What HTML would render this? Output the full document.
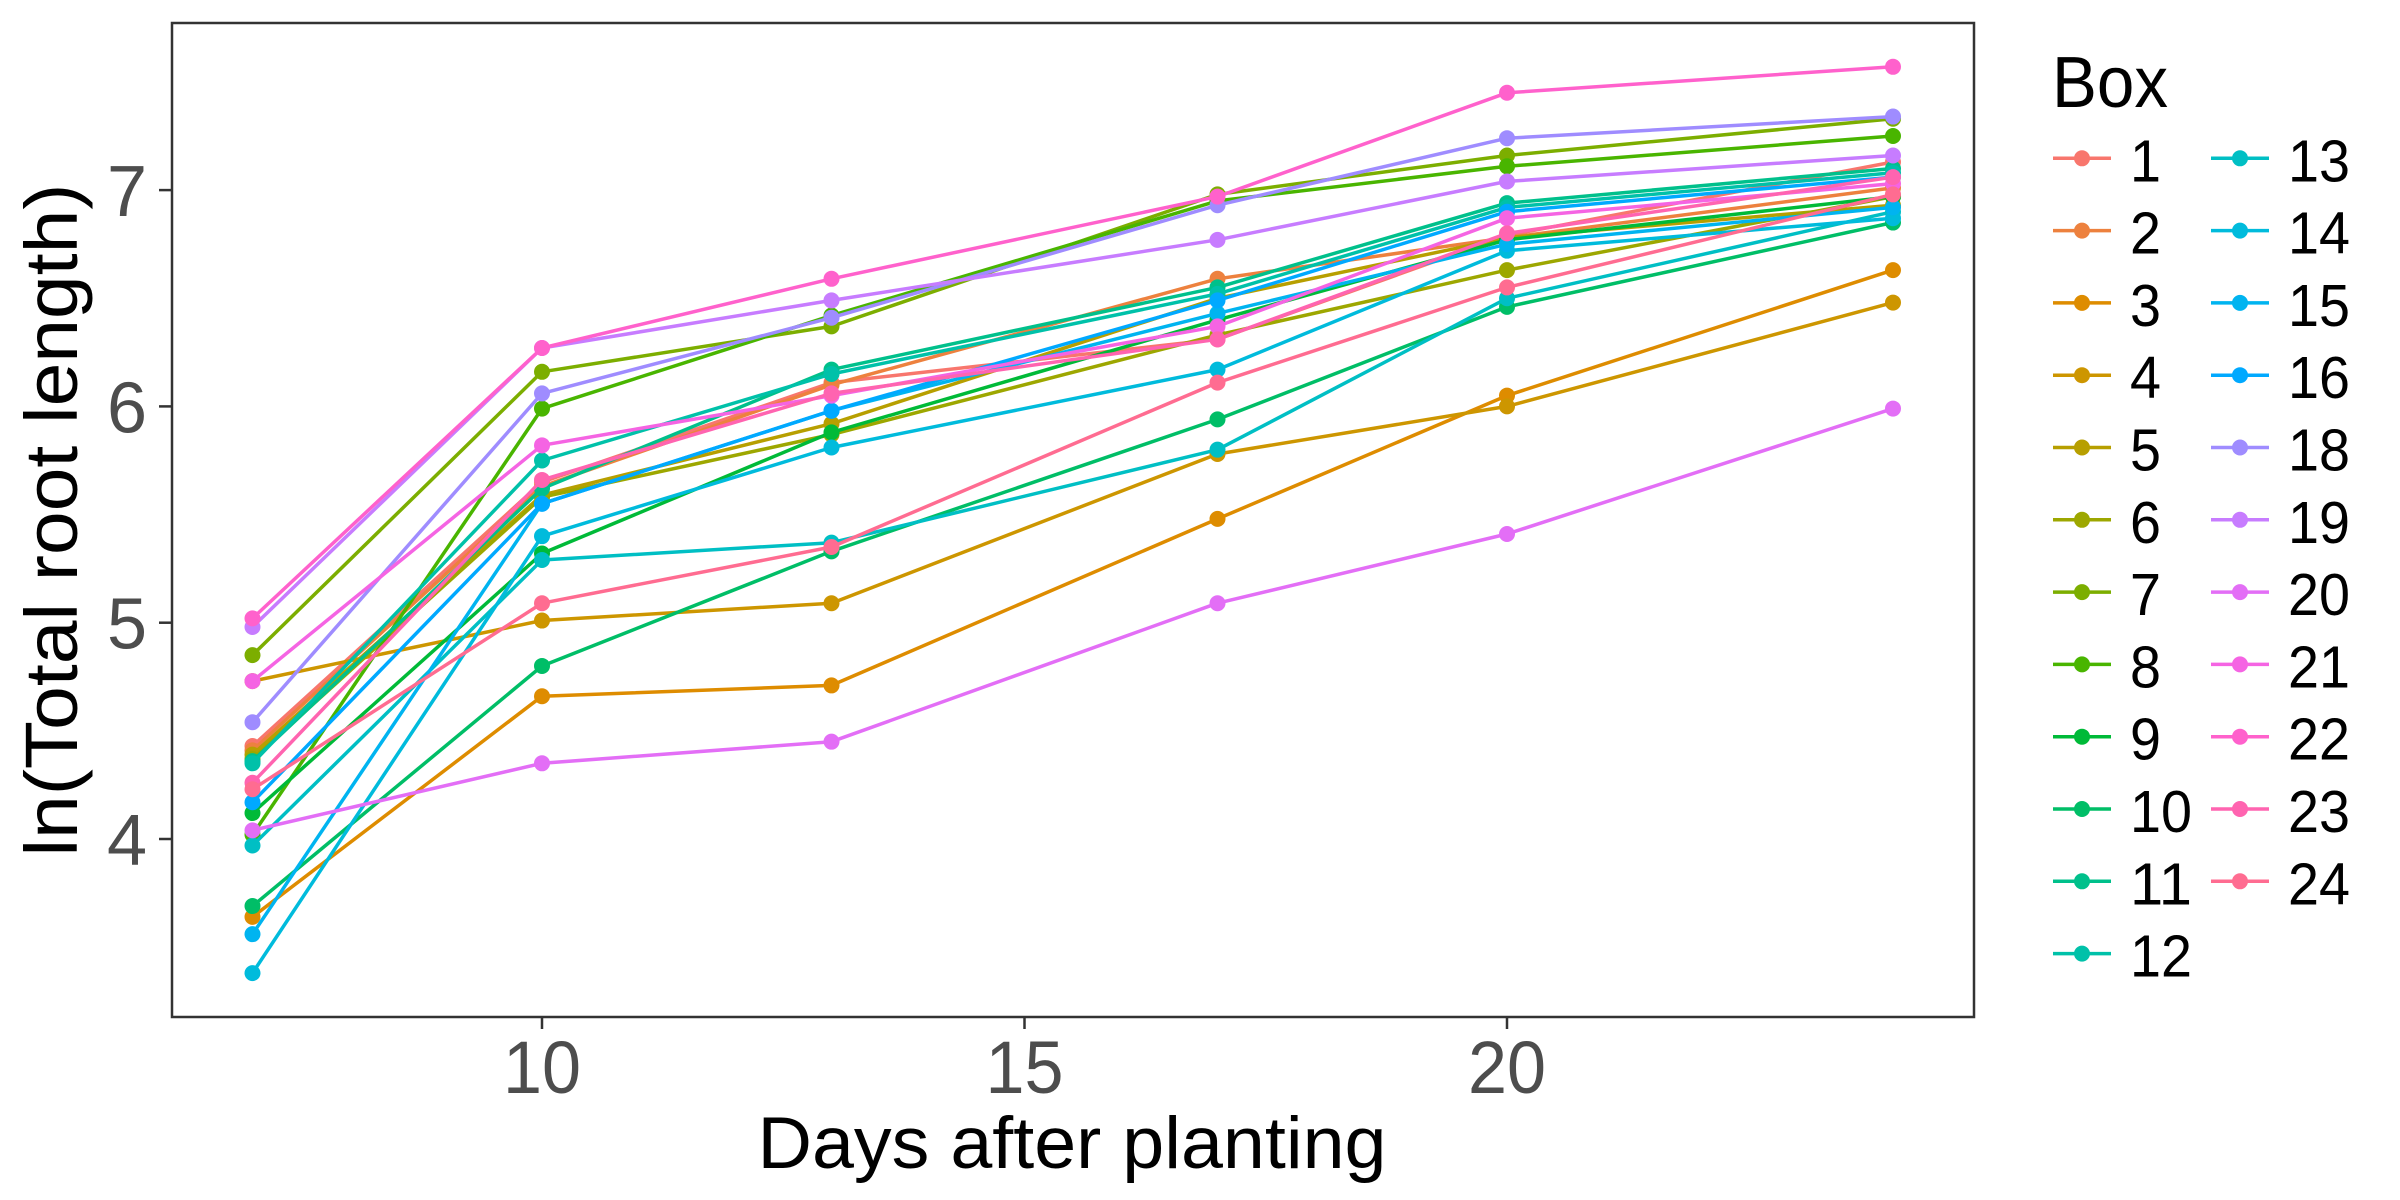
<!DOCTYPE html>
<html><head><meta charset="utf-8"><style>
html,body{margin:0;padding:0;background:#fff;}
svg{display:block;font-family:"Liberation Sans",sans-serif;}
</style></head><body>
<svg id="chart" width="2400" height="1200" viewBox="0 0 2400 1200" xmlns="http://www.w3.org/2000/svg">
<rect x="0" y="0" width="2400" height="1200" fill="#fff"/>
<g id="plot"></g>
<rect x="172" y="23" width="1802" height="994" fill="none" stroke="#333" stroke-width="2.5"/>
<g id="axes"></g>
<text x="1072" y="1168" font-size="73" text-anchor="middle" textLength="629" lengthAdjust="spacingAndGlyphs" fill="#000">Days after planting</text>
<text transform="translate(77,520) rotate(-90)" font-size="74" text-anchor="middle" textLength="673" lengthAdjust="spacingAndGlyphs" fill="#000">ln(Total root length)</text>
<g id="legend">
<text x="2052" y="107" font-size="72" textLength="116" lengthAdjust="spacingAndGlyphs" fill="#000">Box</text>
</g>
</svg>
<script>
const days = [7, 10, 13, 17, 20, 24];
const boxes = ['1','2','3','4','5','6','7','8','9','10','11','12','13','14','15','16','18','19','20','21','22','23','24'];
const s1  = [4.43, 5.65, 6.11, 6.31, 6.79, 7.13];
const s2  = [4.41, 5.63, 6.10, 6.59, 6.78, 7.01];
const s3  = [3.64, 4.66, 4.71, 5.48, 6.05, 6.63];
const s4  = [4.73, 5.01, 5.09, 5.78, 6.00, 6.48];
const s5  = [4.39, 5.59, 5.92, 6.50, 6.78, 6.93];
const s6  = [4.37, 5.58, 5.87, 6.33, 6.63, 6.97];
const s7  = [4.85, 6.16, 6.37, 6.98, 7.16, 7.33];
const s8  = [4.02, 5.99, 6.42, 6.95, 7.11, 7.25];
const s9  = [4.12, 5.32, 5.88, 6.40, 6.77, 6.97];
const s10 = [3.69, 4.80, 5.33, 5.94, 6.46, 6.85];
const s11 = [4.36, 5.62, 6.17, 6.55, 6.94, 7.10];
const s12 = [4.35, 5.75, 6.15, 6.52, 6.92, 7.08];
const s13 = [3.97, 5.29, 5.37, 5.80, 6.50, 6.90];
const s14 = [3.38, 5.40, 5.81, 6.17, 6.72, 6.87];
const s15 = [3.56, 5.55, 5.98, 6.43, 6.75, 6.92];
const s16 = [4.17, 5.55, 5.98, 6.49, 6.90, 7.06];
const s18 = [4.54, 6.06, 6.41, 6.93, 7.24, 7.34];
const s19 = [4.98, 6.27, 6.49, 6.77, 7.04, 7.16];
const s20 = [4.04, 4.35, 4.45, 5.09, 5.41, 5.99];
const s21 = [4.73, 5.82, 6.05, 6.37, 6.87, 7.03];
const s22 = [5.02, 6.27, 6.59, 6.97, 7.45, 7.57];
const s23 = [4.26, 5.66, 6.06, 6.31, 6.80, 7.06];
const s24 = [4.23, 5.09, 5.35, 6.11, 6.55, 6.98];
const series = [s1,s2,s3,s4,s5,s6,s7,s8,s9,s10,s11,s12,s13,s14,s15,s16,s18,s19,s20,s21,s22,s23,s24];
const xTicks = [10, 15, 20];
const yTicks = [4, 5, 6, 7];

const NS = 'http://www.w3.org/2000/svg';
function xScale(d){ return 542 + (d - 10) * 96.5; }
function yScale(v){ return 622.7 - (v - 5) * 216.3; }
function mk(tag, attrs, parent){
  const el = document.createElementNS(NS, tag);
  for (const k in attrs) el.setAttribute(k, attrs[k]);
  parent.appendChild(el);
  return el;
}
function hcl(h){
  const L = 65, C = 100, hr = h * Math.PI / 180;
  const u = C * Math.cos(hr), v = C * Math.sin(hr);
  const Y = Math.pow((L + 16) / 116, 3);
  const un = 0.1978398, vn = 0.4683363;
  const up = u / (13 * L) + un, vp = v / (13 * L) + vn;
  const X = Y * 9 * up / (4 * vp);
  const Z = Y * (12 - 3 * up - 20 * vp) / (4 * vp);
  const lin = [3.240479*X - 1.537150*Y - 0.498535*Z, -0.969256*X + 1.875992*Y + 0.041556*Z, 0.055648*X - 0.204043*Y + 1.057311*Z];
  const g = lin.map(c => { c = c <= 0.0031308 ? 12.92 * c : 1.055 * Math.pow(c, 1/2.4) - 0.055; return Math.round(Math.max(0, Math.min(1, c)) * 255); });
  return 'rgb(' + g.join(',') + ')';
}
const colors = boxes.map(b => hcl(15 + (parseInt(b, 10) - 1) * 15));

const plot = document.getElementById('plot');
series.forEach((vals, i) => {
  const g = mk('g', {}, plot);
  
  
  const pts = vals.map((v, j) => xScale(days[j]).toFixed(1) + ',' + yScale(v).toFixed(1)).join(' ');
  const pl = mk('polyline', {points: pts, fill: 'none', stroke: colors[i], 'stroke-width': 3.5, 'stroke-linejoin': 'round'}, g);
  
  
  vals.forEach((v, j) => {
    const c = mk('circle', {cx: xScale(days[j]), cy: yScale(v), r: 8, fill: colors[i]}, g);
    
    
  });
});

const axes = document.getElementById('axes');
xTicks.forEach(t => {
  const x = xScale(t);
  const l = mk('line', {x1: x, x2: x, y1: 1017, y2: 1029, stroke: '#333', 'stroke-width': 2.5}, axes);
  
  
  const tx = mk('text', {x: x, y: 1093, 'font-size': 74, 'text-anchor': 'middle', fill: '#4D4D4D', textLength: 78, lengthAdjust: 'spacingAndGlyphs'}, axes);
  tx.textContent = t;
  
  
});
yTicks.forEach(t => {
  const y = yScale(t);
  const l = mk('line', {x1: 159, x2: 172, y1: y, y2: y, stroke: '#333', 'stroke-width': 2.5}, axes);
  
  
  const tx = mk('text', {x: 147, y: y + 26, 'font-size': 72, 'text-anchor': 'end', fill: '#4D4D4D'}, axes);
  tx.textContent = t;
  
  
});

const legend = document.getElementById('legend');
boxes.forEach((b, i) => {
  const col = i < 12 ? 0 : 1, row = i < 12 ? i : i - 12;
  const cx = col ? 2240 : 2082, cy = 158.3 + row * 72.3, lx = col ? 2288 : 2130;
  const g = mk('g', {}, legend);
  
  
  mk('line', {x1: cx - 29, x2: cx + 29, y1: cy, y2: cy, stroke: colors[i], 'stroke-width': 3.5}, g);
  mk('circle', {cx: cx, cy: cy, r: 8, fill: colors[i]}, g);
  const tx = mk('text', {x: lx, y: cy + 23, 'font-size': 59, fill: '#000', textLength: b.length * 31, lengthAdjust: 'spacingAndGlyphs'}, g);
  tx.textContent = b;
});
</script>
</body></html>
